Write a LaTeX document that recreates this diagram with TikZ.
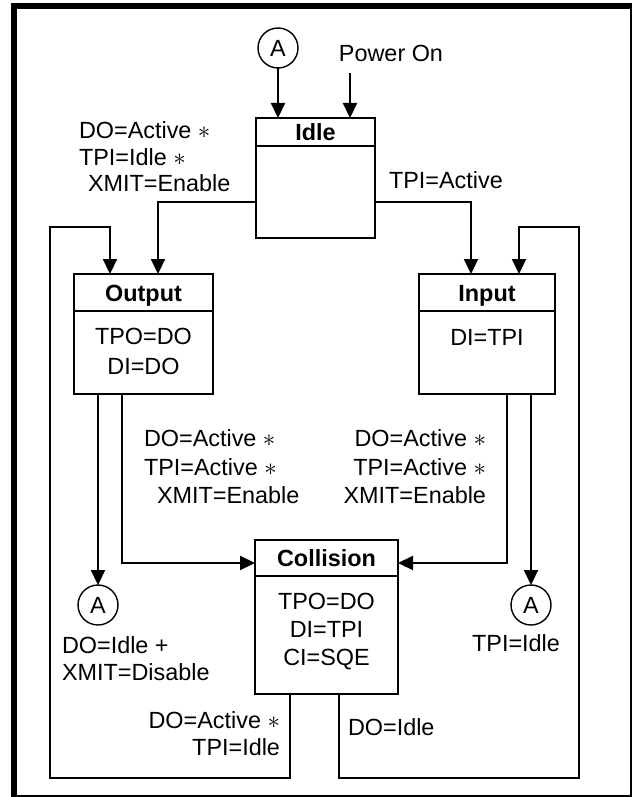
\documentclass[tikz,border=0pt]{standalone}
\usepackage{fontspec}
\setmainfont{Liberation Sans}
\usetikzlibrary{arrows.meta,calc}
\begin{document}
\begin{tikzpicture}[x=1pt,y=-1pt,
  every node/.style={inner sep=0pt, outer sep=0pt},
  one/.style={text height=16.8pt, text depth=0pt},
  txt/.style={font=\fontsize{23.4}{#1}\selectfont},
  txt/.default=27,
  hdr/.style={one, font=\fontsize{23.4}{27}\selectfont\bfseries},
  stbox/.style={draw, line width=2.2pt, rectangle},
  conn/.style={one, draw, line width=1.4pt, circle, minimum size=40pt, font=\fontsize{23.4}{27}\selectfont},
  ln/.style={line width=2.2pt},
  arr/.style={line width=2.2pt, -{Triangle[length=15pt,width=14pt]}},
]
\useasboundingbox (0,0) rectangle (632,797);
% outer frame
\fill (11,3) rectangle (632,9);
\fill (11,3) rectangle (17,797);
\fill (629.5,3) rectangle (632,797);
\fill (11,794.5) rectangle (632,797);

% state boxes
\node[stbox, minimum width=119pt, minimum height=120pt] (idle) at (315.5,178) {};
\node[hdr, anchor=north] (idleh) at (315.5,123.6) {Idle};
\draw[ln] (idle.west |- 0,146) -- (idle.east |- 0,146);

\node[stbox, minimum width=139pt, minimum height=120pt] (output) at (143.5,334) {};
\node[hdr, anchor=north] (outh) at (143.5,284.6) {Output};
\draw[ln] (output.west |- 0,311) -- (output.east |- 0,311);
\node[txt=30, anchor=north, align=center] (outb) at (143.5,328.6) {TPO=DO\\DI=DO};

\node[stbox, minimum width=136pt, minimum height=120pt] (input) at (487,334) {};
\node[hdr, anchor=north] (inh) at (487,284.6) {Input};
\draw[ln] (input.west |- 0,311) -- (input.east |- 0,311);
\node[txt, one, anchor=north, align=center] (inb) at (487,328.6) {DI=TPI};

\node[stbox, minimum width=143pt, minimum height=154pt] (coll) at (326.5,617) {};
\node[hdr, anchor=north] (collh) at (326.5,549.6) {Collision};
\draw[ln] (coll.west |- 0,576) -- (coll.east |- 0,576);
\node[txt=28, anchor=north, align=center] (collb) at (326.5,593.6) {TPO=DO\\DI=TPI\\CI=SQE};

% connectors A
\node[conn] (atop) at (278,48) {A};
\node[conn] (aleft) at (98,605) {A};
\node[conn] (aright) at (531,605) {A};

\node[txt, one, anchor=north] (pw) at (391,44.6) {Power On};
\coordinate (pwstart) at (350,73);

% loop corners
\coordinate (LB) at (50,778);
\coordinate (LT) at (50,227);
\coordinate (RB) at (579,778);
\coordinate (RT) at (579,227);

% arrows into Idle
\draw[arr] (atop.south) -- (atop.south |- idle.north);
\draw[arr] (pwstart) -- (pwstart |- idle.north);

% Idle -> Output / Input
\draw[arr] ($(idle.west)+(0,24)$) -| ($(output.north)+(14.5,0)$);
\draw[arr] ($(idle.east)+(0,24)$) -| ($(input.north)+(-16,0)$);

% Output -> A, Output -> Collision
\draw[arr] ($(output.south)+(-45.5,0)$) -- (aleft.north);
\draw[arr] ($(output.south)+(-21.5,0)$) |- ($(coll.west)+(0,-54)$);
% Input -> Collision, Input -> A
\draw[arr] ($(input.south)+(20,0)$) |- ($(coll.east)+(0,-54)$);
\draw[arr] ($(input.south)+(44,0)$) -- (aright.north);

% Collision -> Output loop, Collision -> Input loop
\draw[arr] ($(coll.south)+(-36.5,0)$) |- (LB) -- (LT) -| ($(output.north)+(-33.5,0)$);
\draw[arr] ($(coll.south)+(12.5,0)$) |- (RB) -- (RT) -| ($(input.north)+(32,0)$);

% labels
\node[txt=26.5, anchor=north west, align=left] (l1) at (79,121.6)
  {DO=Active $\ast$\\TPI=Idle $\ast$\\\hspace{9pt}XMIT=Enable};
\node[txt, one, anchor=north west] (l2) at (389,171.6) {TPI=Active};
\node[txt=28.5, anchor=north west, align=left] (l3) at (144,429.6)
  {DO=Active $\ast$\\TPI=Active $\ast$\\\hspace{13pt}XMIT=Enable};
\node[txt=28.5, anchor=north east, align=right] (l4) at (486,429.6)
  {DO=Active $\ast$\\TPI=Active $\ast$\\XMIT=Enable};
\node[txt, anchor=north west, align=left] (l5) at (62,636.6) {DO=Idle +\\XMIT=Disable};
\node[txt, one, anchor=north] (l6) at (516,634.6) {TPI=Idle};
\node[txt, anchor=north east, align=right] (l7) at (280,711.6) {DO=Active $\ast$\\TPI=Idle};
\node[txt, one, anchor=north west] (l8) at (348,718.6) {DO=Idle};
\end{tikzpicture}
\end{document}
